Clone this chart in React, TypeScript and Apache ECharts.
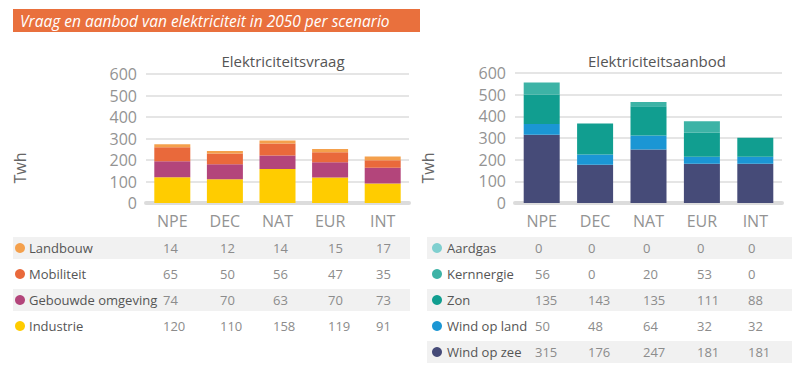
import React, { useEffect, useRef } from "react";
import * as echarts from "echarts";

const scenarios = ["NPE", "DEC", "NAT", "EUR", "INT"];
const yTicks = [0, 100, 200, 300, 400, 500, 600];

// Vraag (top of stack first, as in the table)
const demandNames = ["Landbouw", "Mobiliteit", "Gebouwde omgeving", "Industrie"];
const landbouw = [14, 12, 14, 15, 17];
const mobiliteit = [65, 50, 56, 47, 35];
const gebouwde = [74, 70, 63, 70, 73];
const industrie = [120, 110, 158, 119, 91];
const demandColors = ["#F4A04C", "#E9693B", "#B3457B", "#FFCC00"];

// Aanbod
const supplyNames = ["Aardgas", "Kernnergie", "Zon", "Wind op land", "Wind op zee"];
const aardgas = [0, 0, 0, 0, 0];
const kernenergie = [56, 0, 20, 53, 0];
const zon = [135, 143, 135, 111, 88];
const windLand = [50, 48, 64, 32, 32];
const windZee = [315, 176, 247, 181, 181];
const supplyColors = ["#7FCFCF", "#3DB3A6", "#119E90", "#1B96D4", "#464B78"];

const FONT = "'Open Sans', Lato, sans-serif";

export default function App() {
  const ref = useRef<HTMLDivElement>(null);
  useEffect(() => {
    const chart = echarts.init(ref.current!, undefined, { renderer: "svg" });
    const demand = [landbouw, mobiliteit, gebouwde, industrie];
    const supply = [aardgas, kernenergie, zon, windLand, windZee];

    const yAxisBase = (gi: number) => ({
      type: "value",
      gridIndex: gi,
      min: 0,
      max: yTicks[yTicks.length - 1],
      interval: 100,
      axisLine: { show: false },
      axisTick: { show: false },
      axisLabel: { color: "#939393", fontSize: 16, fontFamily: FONT, margin: 9 },
      splitLine: { lineStyle: { color: "#e5e5e5", width: 2 } },
    });
    const xAxisBase = (gi: number) => ({
      type: "category",
      gridIndex: gi,
      data: scenarios,
      axisLine: { lineStyle: { color: "#dcdcdc", width: 4 } },
      axisTick: { show: false },
      axisLabel: { color: "#939393", fontSize: 16, fontFamily: FONT, margin: 10 },
    });

    const series: any[] = [];
    // stack from bottom
    for (let i = demand.length - 1; i >= 0; i--) {
      series.push({
        type: "bar",
        name: demandNames[i],
        xAxisIndex: 0,
        yAxisIndex: 0,
        stack: "d",
        data: demand[i],
        barWidth: 36,
        itemStyle: { color: demandColors[i] },
      });
    }
    for (let i = supply.length - 1; i >= 0; i--) {
      series.push({
        type: "bar",
        name: supplyNames[i],
        xAxisIndex: 1,
        yAxisIndex: 1,
        stack: "s",
        data: supply[i],
        barWidth: 36,
        itemStyle: { color: supplyColors[i] },
      });
    }

    const graphics: any[] = [
      { type: "rect", shape: { x: 13, y: 9, width: 407, height: 23 }, style: { fill: "#E9703D" } },
      {
        type: "text", x: 20, y: 21,
        style: { text: "Vraag en aanbod van elektriciteit in 2050 per scenario", fill: "#fff", fontSize: 15.5, fontStyle: "italic", fontFamily: FONT, verticalAlign: "middle" },
      },
      { type: "text", x: 283, y: 61, style: { text: "Elektriciteitsvraag", fill: "#555", fontSize: 15, fontFamily: FONT, align: "center", verticalAlign: "middle" } },
      { type: "text", x: 657, y: 61, style: { text: "Elektriciteitsaanbod", fill: "#555", fontSize: 15, fontFamily: FONT, align: "center", verticalAlign: "middle" } },
      { type: "text", x: 20, y: 168, rotation: Math.PI / 2, style: { text: "Twh", fill: "#666", fontSize: 16, fontFamily: FONT, align: "center", verticalAlign: "middle" } },
      { type: "text", x: 428, y: 168, rotation: Math.PI / 2, style: { text: "Twh", fill: "#666", fontSize: 16, fontFamily: FONT, align: "center", verticalAlign: "middle" } },
    ];

    const addTable = (names: string[], colors: string[], rows: number[][], x0: number, x1: number, markerX: number, labelX: number, colX: number[]) => {
      names.forEach((n, r) => {
        const cy = 248 + r * 26;
        if (r % 2 === 0) {
          graphics.push({ type: "rect", shape: { x: x0, y: cy - 11, width: x1 - x0, height: 22 }, style: { fill: "#f1f1f1" } });
        }
        graphics.push({ type: "circle", shape: { cx: markerX, cy, r: 5 }, style: { fill: colors[r] } });
        graphics.push({ type: "text", x: labelX, y: cy, style: { text: n, fill: "#555", fontSize: 13, fontFamily: FONT, verticalAlign: "middle" } });
        rows[r].forEach((v, c) => {
          graphics.push({ type: "text", x: colX[c], y: cy, style: { text: String(v), fill: "#8c8c8c", fontSize: 13, fontFamily: FONT, verticalAlign: "middle" } });
        });
      });
    };
    addTable(demandNames, demandColors, demand, 13, 410, 20, 29, [163, 220, 273, 328, 376]);
    addTable(supplyNames, supplyColors, supply, 427, 792, 437, 447, [535, 588, 643, 697, 748]);

    chart.setOption({
      animation: false,
      grid: [
        { left: 146, width: 263, top: 74, height: 129 },
        { left: 515, width: 267, top: 73, height: 130 },
      ],
      xAxis: [xAxisBase(0), xAxisBase(1)],
      yAxis: [yAxisBase(0), yAxisBase(1)],
      series,
      graphic: graphics,
    });
    return () => chart.dispose();
  }, []);
  return <div ref={ref} style={{ width: 800, height: 375, position: "absolute", left: 0, top: 0, background: "#fff" }} />;
}
